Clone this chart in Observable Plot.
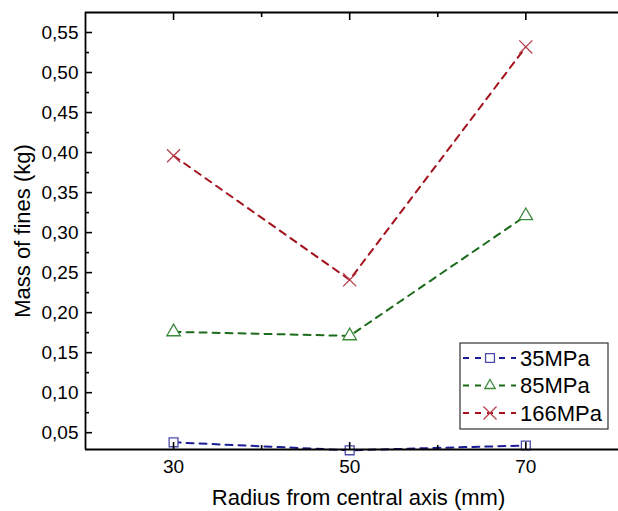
<!DOCTYPE html>
<html><head><meta charset="utf-8">
<script src="https://cdn.jsdelivr.net/npm/d3@7"></script>
<script src="https://cdn.jsdelivr.net/npm/@observablehq/plot@0.6"></script>
<style>
html,body{margin:0;background:#fff;font-family:"Liberation Sans",Arial,sans-serif;overflow:hidden}
#wrap{position:relative;width:618px;height:511px;overflow:hidden}
#wrap svg{max-width:none !important;height:511px !important;display:block}
#legend{position:absolute;left:0;top:0}
</style>
</head><body><div id="wrap"></div>
<script>
const radius = [30, 50, 70];
const mpa35 = [0.038, 0.028, 0.034];
const mpa85 = [0.176, 0.171, 0.321];
const mpa166 = [0.396, 0.241, 0.532];
const seriesNames = ["35MPa", "85MPa", "166MPa"];
const lineColors = ["#1c1c96", "#1b6b1b", "#a3121c"];
const markColors = ["#4a4aaa", "#3d8a3d", "#b8404c"];
const symbols = ["square", "triangle", "times"];
const xTicks = [30, 50, 70];
const xMinor = [40, 60];
const yTicks = [0.05, 0.10, 0.15, 0.20, 0.25, 0.30, 0.35, 0.40, 0.45, 0.50, 0.55];
const yMinor = [0.075, 0.125, 0.175, 0.225, 0.275, 0.325, 0.375, 0.425, 0.475, 0.525];
const xTitle = "Radius from central axis (mm)";
const yTitle = "Mass of fines (kg)";
const xDomain = [20, 82];
const yDomain = [0.029, 0.575];

const seriesValues = [mpa35, mpa85, mpa166];
const rows = seriesNames.flatMap((s, i) => radius.map((r, j) => ({series: s, idx: i, x: r, y: seriesValues[i][j]})));
const fmt = d => d.toFixed(2).replace(".", ",");
const blank = () => "";
const symR = [5, 5, 6];

const marks = [];
seriesNames.forEach((s, i) => {
  const d = rows.filter(r => r.series === s);
  marks.push(Plot.line(d, {x: "x", y: "y", stroke: lineColors[i], strokeWidth: 2, strokeDasharray: "7,6"}));
});
seriesNames.forEach((s, i) => {
  const d = rows.filter(r => r.series === s);
  marks.push(Plot.dot(d, {x: "x", y: "y", symbol: () => symbols[i], stroke: markColors[i], fill: symbols[i] === "times" ? "none" : "white", strokeWidth: 1.3, r: symR[i]}));
});

const fs = 19;
marks.push(
  Plot.axisX(xTicks, {anchor: "bottom", tickSize: 0, tickPadding: 10, fontSize: fs, label: null, fill: "#000"}),
  Plot.axisX(xTicks, {anchor: "bottom", tickSize: -7, tickFormat: blank, label: null, strokeWidth: 1.6}),
  Plot.axisX(xMinor, {anchor: "bottom", tickSize: -4, tickFormat: blank, label: null, strokeWidth: 1.6}),
  Plot.axisX(xTicks, {anchor: "top", tickSize: -7, tickFormat: blank, label: null, strokeWidth: 1.6}),
  Plot.axisX(xMinor, {anchor: "top", tickSize: -4, tickFormat: blank, label: null, strokeWidth: 1.6}),
  Plot.axisY(yTicks, {anchor: "left", tickSize: 0, tickPadding: 7, fontSize: fs, tickFormat: fmt, label: null, fill: "#000"}),
  Plot.axisY(yTicks, {anchor: "left", tickSize: -7, tickFormat: blank, label: null, strokeWidth: 1.6}),
  Plot.axisY(yMinor, {anchor: "left", tickSize: -4, tickFormat: blank, label: null, strokeWidth: 1.6}),
  Plot.ruleX([xDomain[0]], {stroke: "#000", strokeWidth: 1.8}),
  Plot.ruleY(yDomain, {stroke: "#000", strokeWidth: 1.8}),
  Plot.text([xTitle], {frameAnchor: "bottom", lineAnchor: "middle", textAnchor: "middle", dy: 48, dx: 0, fontSize: 22, fill: "#000"}),
  Plot.text([yTitle], {frameAnchor: "left", lineAnchor: "middle", textAnchor: "middle", dx: -63, rotate: -90, fontSize: 22, fill: "#000"})
);

const chart = Plot.plot({
  width: 640, height: 511,
  marginLeft: 85, marginRight: 9, marginTop: 12, marginBottom: 62,
  style: {fontFamily: '"Liberation Sans", Arial, sans-serif', background: "#fff"},
  x: {domain: xDomain},
  y: {domain: yDomain},
  marks
});
const wrap = document.getElementById("wrap");
wrap.appendChild(chart);

// legend overlay
const svg = d3.select(wrap).append("svg").attr("id", "legend").attr("width", 618).attr("height", 511);
svg.append("rect").attr("x", 460).attr("y", 343).attr("width", 148).attr("height", 86)
  .attr("fill", "#fff").attr("stroke", "#333").attr("stroke-width", 1.2);
const symGen = {
  square: d3.symbol(d3.symbolSquare, Math.PI * 25),
  triangle: d3.symbol(d3.symbolTriangle2, Math.PI * 25),
  times: d3.symbol(d3.symbolTimes, Math.PI * 36)
};
seriesNames.forEach((s, i) => {
  const y = 358 + i * 27.5;
  svg.append("line").attr("x1", 463).attr("x2", 516).attr("y1", y).attr("y2", y)
    .attr("stroke", lineColors[i]).attr("stroke-width", 2).attr("stroke-dasharray", "6,6");
  svg.append("path").attr("d", symGen[symbols[i]]()).attr("transform", `translate(490,${y})`)
    .attr("stroke", markColors[i]).attr("fill", symbols[i] === "times" ? "none" : "white").attr("stroke-width", 1.3);
  svg.append("text").attr("x", 520).attr("y", y).attr("dy", "0.36em").attr("font-size", 22)
    .attr("font-family", '"Liberation Sans", Arial, sans-serif').text(s);
});
</script>
</body></html>
